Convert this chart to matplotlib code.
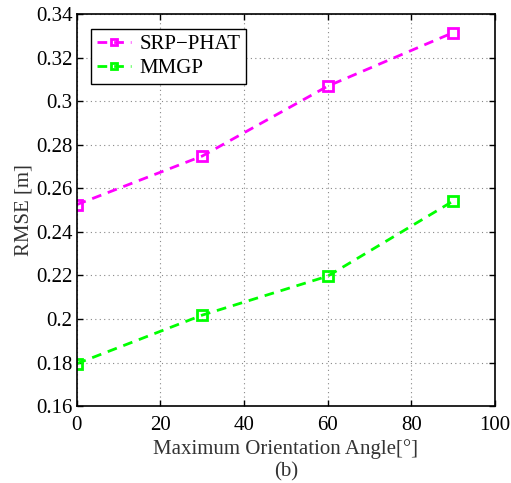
import matplotlib
matplotlib.use("Agg")
import matplotlib.pyplot as plt

angles = [0, 30, 60, 90]
srp_phat = [0.2525, 0.2748, 0.3069, 0.3315]
mmgp = [0.1795, 0.2018, 0.2197, 0.2542]

plt.rcParams["font.family"] = ["Liberation Serif", "DejaVu Serif"]

fig = plt.figure(figsize=(5.11, 4.83), dpi=100)
ax = fig.add_axes([0.15, 0.159, 0.819, 0.812])

ax.plot(angles, srp_phat, color="#ff00ff", linestyle="--", linewidth=2,
        marker="s", markersize=7, markerfacecolor="none", markeredgewidth=2,
        dashes=(3.5, 2.5), label="SRP\u2212PHAT")
ax.plot(angles, mmgp, color="#00ff00", linestyle="--", linewidth=2,
        marker="s", markersize=7, markerfacecolor="none", markeredgewidth=2,
        dashes=(3.5, 2.5), label="MMGP")

ax.set_xlim(0, 100)
ax.set_ylim(0.16, 0.34)
ax.set_xticks(range(0, 101, 20))
ax.set_yticks([0.16, 0.18, 0.2, 0.22, 0.24, 0.26, 0.28, 0.3, 0.32, 0.34])
ax.set_yticklabels(["0.16", "0.18", "0.2", "0.22", "0.24", "0.26", "0.28",
                    "0.3", "0.32", "0.34"])
ax.grid(True, linestyle=(0, (1, 3)), color="#888888", linewidth=0.8)
ax.tick_params(direction="in", top=True, right=True, labelsize=15, length=4,
               width=1, pad=3)
ax.tick_params(axis="x", pad=7)
for s in ax.spines.values():
    s.set_linewidth(1.2)

ax.set_ylabel("RMSE [m]", fontsize=15, labelpad=2, color="#333333")
ax.set_xlabel("Maximum Orientation Angle[\u00b0]\n(b)", fontsize=15,
              labelpad=3, linespacing=1.25, color="#333333")

leg = ax.legend(loc="upper left", fontsize=15, fancybox=False,
                edgecolor="black", framealpha=1, handlelength=1.6,
                borderaxespad=0.7, handletextpad=0.4, labelspacing=0.2,
                borderpad=0.3, markerscale=0.7)
leg.get_frame().set_linewidth(1)

fig.savefig("out.png", dpi=100)
